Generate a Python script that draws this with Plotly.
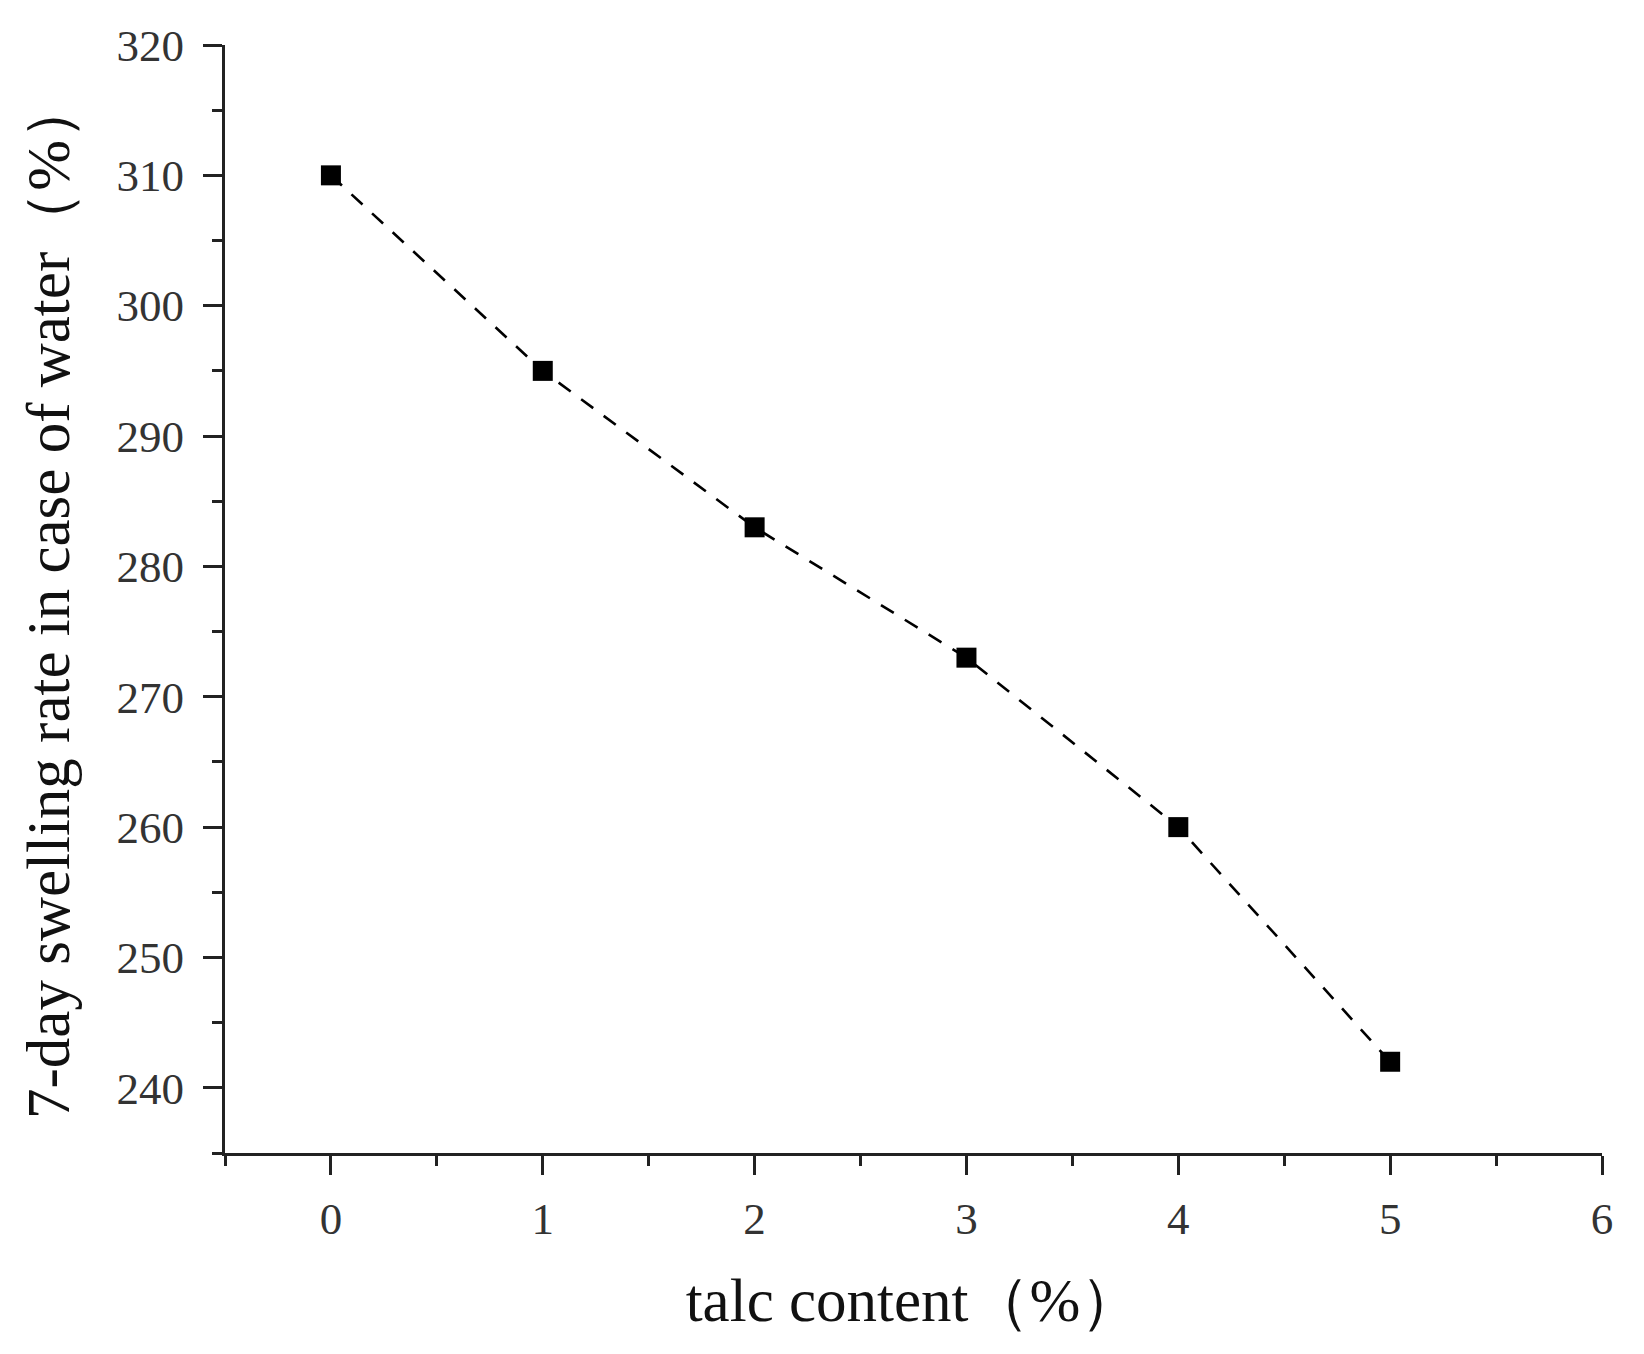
import plotly.graph_objects as go

talc_content = [0, 1, 2, 3, 4, 5]
swelling_rate = [310, 295, 283, 273, 260, 242]

fig = go.Figure()
fig.add_trace(go.Scatter(x=talc_content, y=swelling_rate, mode='lines+markers',
                         line=dict(color='black', width=2.6, dash='15px,13px'),
                         marker=dict(symbol='square', size=20, color='black'),
                         showlegend=False))

axis_font = dict(family='Liberation Serif', size=45, color='#333333')
title_font = dict(family='Liberation Serif', size=61, color='#111111')
fig.update_layout(
    width=1644,
    height=1354,
    plot_bgcolor='white',
    paper_bgcolor='white',
    margin=dict(l=217, r=50, t=37, b=209),
    xaxis=dict(
        range=[-0.5, 6], tick0=0, dtick=1,
        showgrid=False, zeroline=False,
        showline=True, linecolor='#222222', linewidth=3,
        ticks='outside', ticklen=19, tickwidth=3, tickcolor='#222222',
        minor=dict(dtick=0.5, ticks='outside', ticklen=10, tickwidth=3, tickcolor='#222222'),
        tickfont=axis_font, ticklabelstandoff=5,
        title=dict(text='talc content（%）', font=title_font, standoff=36),
    ),
    yaxis=dict(
        range=[235, 320], tick0=240, dtick=10,
        showgrid=False, zeroline=False,
        showline=True, linecolor='#222222', linewidth=3,
        ticks='outside', ticklen=19, tickwidth=3, tickcolor='#222222',
        minor=dict(dtick=5, ticks='outside', ticklen=10, tickwidth=3, tickcolor='#222222'),
        tickfont=axis_font, ticklabelstandoff=10,
        title=dict(text='7-day swelling rate in case of water（%）', font=title_font, standoff=28),
    ),
)

fig.write_html("out.html")
